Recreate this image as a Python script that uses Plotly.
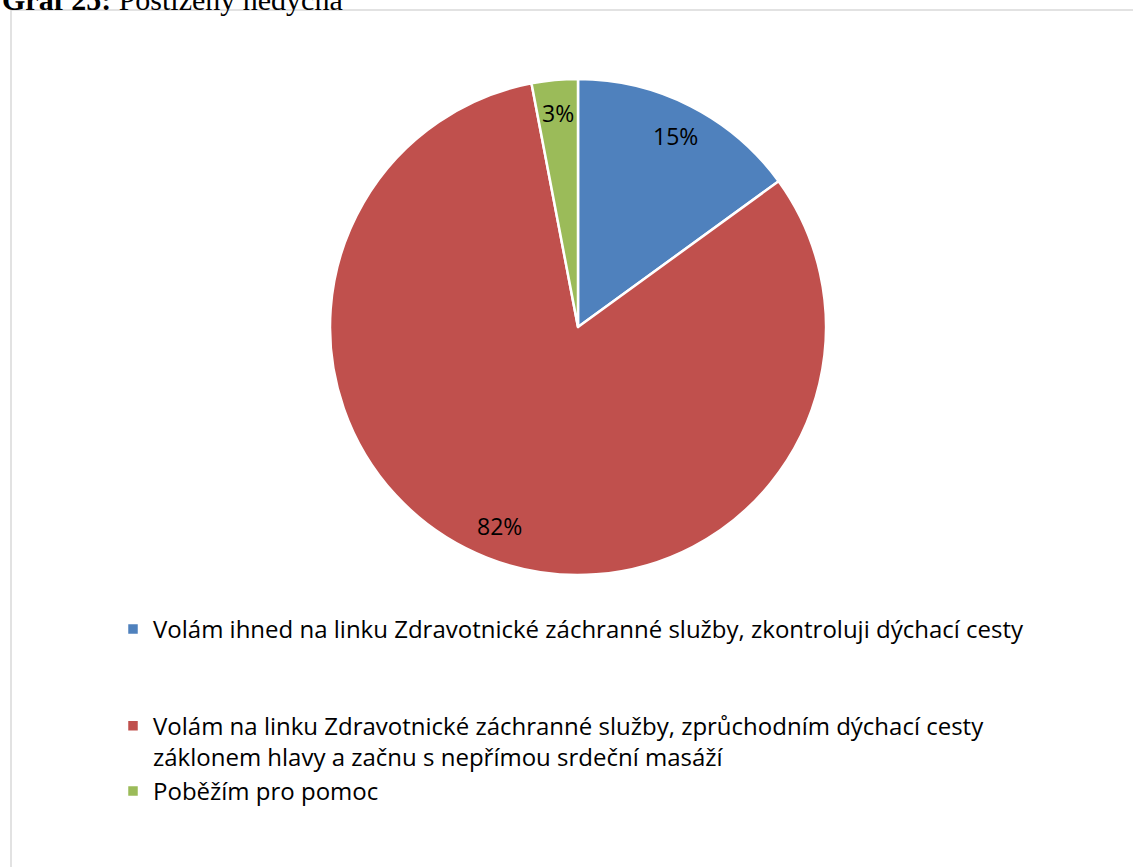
import numpy as np
import plotly.graph_objects as go

labels = [
    "Volám ihned na linku Zdravotnické záchranné služby, zkontroluji dýchací cesty",
    "Volám na linku Zdravotnické záchranné služby, zprůchodním dýchací cesty<br>záklonem hlavy a začnu s nepřímou srdeční masáží",
    "Poběžím pro pomoc",
]
values = [15, 82, 3]
colors = ["#4F81BD", "#C0504D", "#9BBB59"]
legend_pad = ["<br> <br> ", "", ""]

W, H = 1133, 867
cx, cy, r = 578, 327, 248

fig = go.Figure(go.Pie(
    labels=[l + p for l, p in zip(labels, legend_pad)],
    values=values,
    sort=False,
    direction="clockwise",
    rotation=0,
    marker=dict(colors=colors, line=dict(color="white", width=2.5)),
    textinfo="none",
    domain=dict(x=[(cx - r) / W, (cx + r) / W], y=[(H - cy - r) / H, (H - cy + r) / H]),
    hoverinfo="label+percent",
))

# data labels placed along each slice's angular midpoint (Excel-style, near the rim)
vals = np.array(values, dtype=float)
fr = vals / vals.sum()
mids = (np.cumsum(fr) - fr / 2) * 2 * np.pi
rr = 0.865 * r
annotations = []
for f, a in zip(fr, mids):
    px = cx + rr * np.sin(a)
    py = cy - rr * np.cos(a)
    annotations.append(dict(text=f"{round(f * 100)}%", xref="paper", yref="paper",
                            x=px / W, y=(H - py) / H, xanchor="center", yanchor="middle",
                            showarrow=False,
                            font=dict(family="Open Sans, sans-serif", size=23, color="black")))

annotations.append(dict(text="<b>Graf 25:</b> Postižený nedýchá", xref="paper", yref="paper",
                        x=0, y=(H + 19) / H, xanchor="left", yanchor="top", showarrow=False,
                        font=dict(family="Liberation Serif, serif", size=30, color="black")))

fig.update_layout(
    width=W, height=H,
    margin=dict(l=0, r=0, t=0, b=0),
    paper_bgcolor="white",
    plot_bgcolor="white",
    showlegend=True,
    legend=dict(
        x=113 / W, xanchor="left",
        y=(H - 607) / H, yanchor="top",
        valign="top",
        font=dict(family="Open Sans, sans-serif", size=24, color="black"),
        bgcolor="rgba(0,0,0,0)",
        traceorder="normal",
    ),
    shapes=[dict(type="rect", xref="paper", yref="paper",
                 x0=11 / W, x1=1.01, y0=-0.01, y1=(H - 10) / H,
                 line=dict(color="#D9D9D9", width=1.5), fillcolor="rgba(0,0,0,0)")],
    annotations=annotations,
)

fig.write_html("out.html")
